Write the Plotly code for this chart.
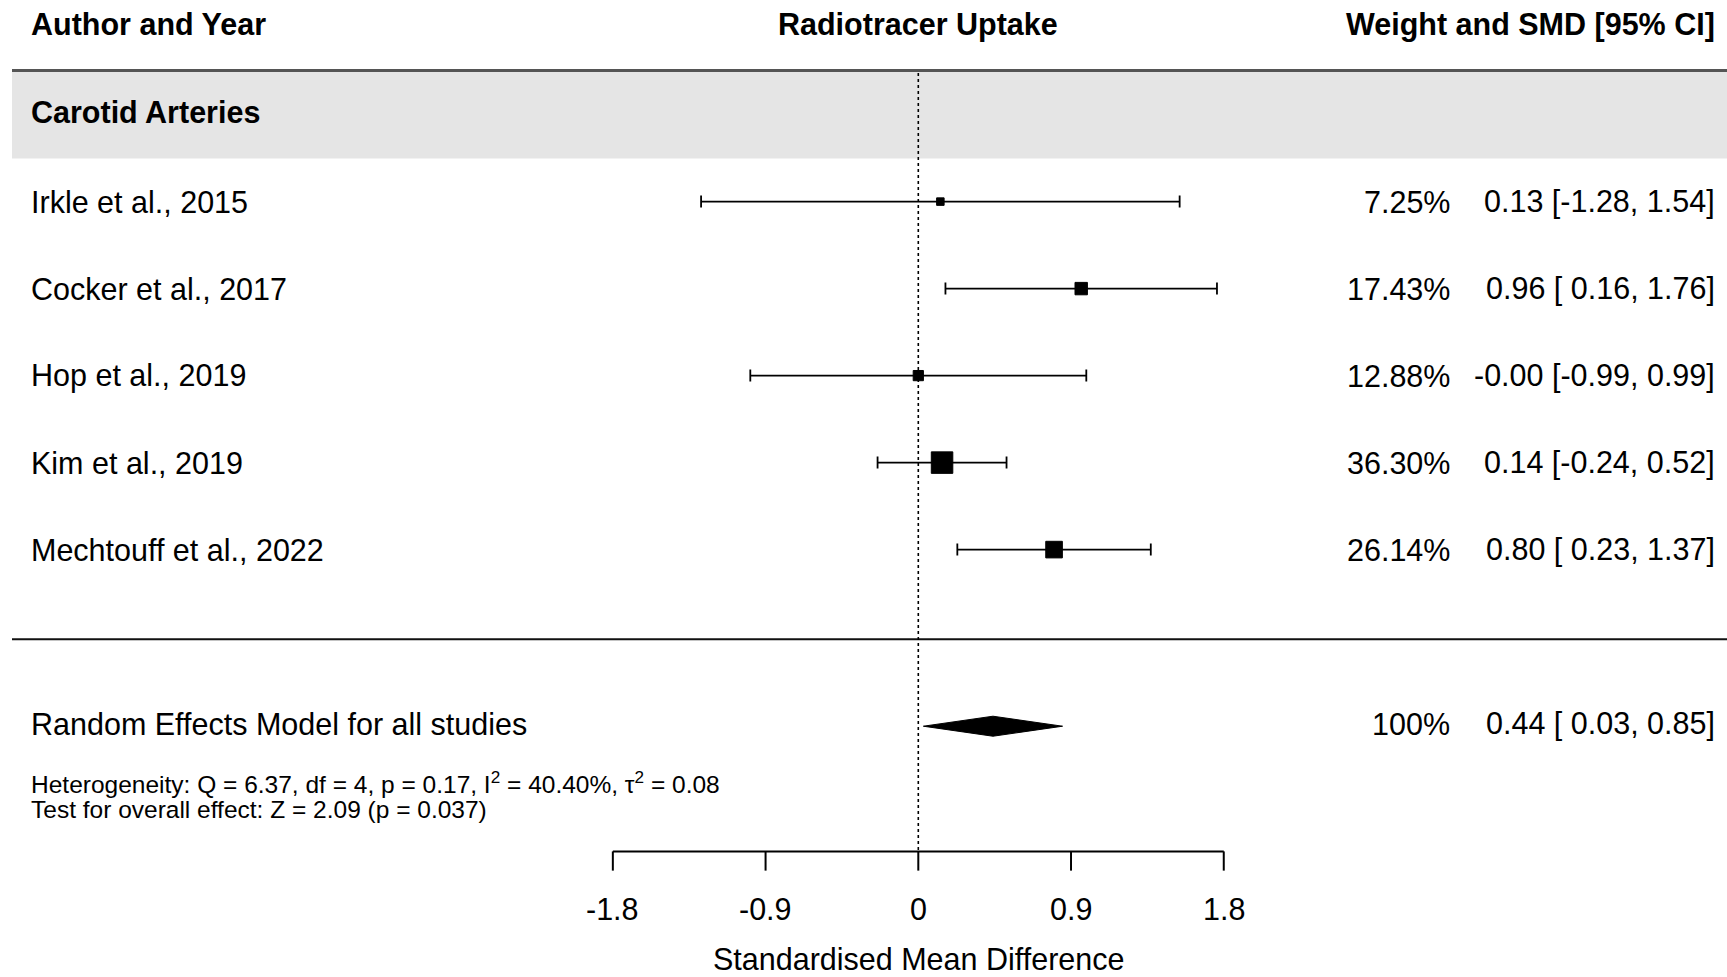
import plotly.graph_objects as go

# ---------------- data ----------------
authors = ["Irkle et al., 2015", "Cocker et al., 2017", "Hop et al., 2019",
           "Kim et al., 2019", "Mechtouff et al., 2022"]
smd = [0.13, 0.96, -0.00, 0.14, 0.80]
ci_lo = [-1.28, 0.16, -0.99, -0.24, 0.23]
ci_hi = [1.54, 1.76, 0.99, 0.52, 1.37]
weights = [7.25, 17.43, 12.88, 36.30, 26.14]

pooled_label = "Random Effects Model for all studies"
pooled_est = 0.44
pooled_lo = 0.03
pooled_hi = 0.85
pooled_weight = "100%"

heterogeneity = "Heterogeneity: Q = 6.37, df = 4, p = 0.17, I<sup>2</sup> = 40.40%, τ<sup>2</sup> = 0.08"
overall_test = "Test for overall effect: Z = 2.09 (p = 0.037)"

tick_vals = [-1.8, -0.9, 0, 0.9, 1.8]
tick_labels = ["-1.8", "-0.9", "0", "0.9", "1.8"]

group_name = "Carotid Arteries"
col_headers = ["Author and Year", "Radiotracer Uptake", "Weight and SMD [95% CI]"]
x_title = "Standardised Mean Difference"

# ---------------- layout constants ----------------
W, H = 1727, 977
X0_PX, UNIT_PX = 918.3, 169.7          # pixel of x=0, pixels per unit
ROW0_PX, ROW_PX = 201.6, 87.0          # pixel of row 1, pixels per row
x_range = [-X0_PX / UNIT_PX, (W - X0_PX) / UNIT_PX]
y_top = 1 - ROW0_PX / ROW_PX
y_bot = 1 + (H - ROW0_PX) / ROW_PX

FONT = "Liberation Sans, Arial, Helvetica, sans-serif"
FS = 30.5
LEFT_PX = 28.5
WEIGHT_RIGHT_PX = 1452
SMD_RIGHT_PX = 1717

rows = list(range(1, len(authors) + 1))
pooled_row = 7
r_header = -1.04
r_band_top, r_band_bot = -0.507, 0.506
r_group = -0.03
r_sep = 6.03
r_het = 7.674
r_test = 7.99
r_axis = 8.469
r_tick_end = 8.69
r_ticklab = 9.13
r_title = 9.70

def px_paper(px):
    return px / W

fig = go.Figure()

# grey band + lines
fig.add_shape(type="rect", xref="paper", yref="y", x0=px_paper(12), x1=1,
              y0=r_band_top, y1=r_band_bot, fillcolor="#e5e5e5", line_width=0, layer="below")
fig.add_shape(type="line", xref="paper", yref="y", x0=px_paper(12), x1=1,
              y0=r_band_top, y1=r_band_top, line=dict(color="#555555", width=3))
fig.add_shape(type="line", xref="paper", yref="y", x0=px_paper(12), x1=1,
              y0=r_sep, y1=r_sep, line=dict(color="#111111", width=2))

# zero reference line
fig.add_shape(type="line", xref="x", yref="y", x0=0, x1=0, y0=r_band_top + 0.03, y1=r_axis,
              line=dict(color="black", width=1.6, dash="dot"))

# study estimates with CIs
wmin, wmax = min(weights), max(weights)
sizes = [7.5 + 14.0 * (w - wmin) / (wmax - wmin) for w in weights]
fig.add_trace(go.Scatter(
    x=smd, y=rows, mode="markers",
    marker=dict(symbol="square", color="black", size=sizes, opacity=1,
                line=dict(width=1, color="black")),
    error_x=dict(type="data", symmetric=False,
                 array=[h - e for h, e in zip(ci_hi, smd)],
                 arrayminus=[e - l for e, l in zip(smd, ci_lo)],
                 color="black", thickness=1.8, width=6),
    showlegend=False, hoverinfo="skip"))

# pooled diamond
dh = 0.115
yc = pooled_row + 0.03
fig.add_trace(go.Scatter(
    x=[pooled_lo, pooled_est, pooled_hi, pooled_est, pooled_lo],
    y=[yc, yc - dh, yc, yc + dh, yc],
    mode="lines", fill="toself", fillcolor="black", line=dict(color="black", width=1),
    showlegend=False, hoverinfo="skip"))

# bottom axis
fig.add_shape(type="line", xref="x", yref="y", x0=tick_vals[0], x1=tick_vals[-1],
              y0=r_axis, y1=r_axis, line=dict(color="black", width=2))
for tv, tl in zip(tick_vals, tick_labels):
    fig.add_shape(type="line", xref="x", yref="y", x0=tv, x1=tv, y0=r_axis, y1=r_tick_end,
                  line=dict(color="black", width=2))
    fig.add_annotation(x=tv, y=r_ticklab, xref="x", yref="y", text=tl, showarrow=False,
                       xanchor="center", yanchor="middle", font=dict(size=FS, color="black", family=FONT))
fig.add_annotation(x=0, y=r_title, xref="x", yref="y", text=x_title, showarrow=False,
                   xanchor="center", yanchor="middle", borderpad=0,
                   font=dict(size=FS, color="black", family=FONT))

def txt(x, y, text, anchor="left", xref="paper", size=FS, bold=False):
    fig.add_annotation(x=x, y=y, xref=xref, yref="y", text=("<b>%s</b>" % text) if bold else text,
                       showarrow=False, xanchor=anchor, yanchor="middle",
                       font=dict(size=size, color="black", family=FONT))

# headers
txt(px_paper(LEFT_PX), r_header, col_headers[0], bold=True)
txt(0, r_header, col_headers[1], anchor="center", xref="x", bold=True)
txt(px_paper(SMD_RIGHT_PX), r_header, col_headers[2], anchor="right", bold=True)
txt(px_paper(LEFT_PX), r_group, group_name, bold=True)

# study rows
for r, a, e, lo, hi, w in zip(rows, authors, smd, ci_lo, ci_hi, weights):
    txt(px_paper(LEFT_PX), r, a)
    txt(px_paper(WEIGHT_RIGHT_PX), r, f"{w:.2f}%", anchor="right")
    txt(px_paper(SMD_RIGHT_PX), r, f"{e:.2f} [{lo:5.2f}, {hi:.2f}]", anchor="right")

# pooled row
txt(px_paper(LEFT_PX), pooled_row, pooled_label)
txt(px_paper(WEIGHT_RIGHT_PX), pooled_row, pooled_weight, anchor="right")
txt(px_paper(SMD_RIGHT_PX), pooled_row, f"{pooled_est:.2f} [{pooled_lo:5.2f}, {pooled_hi:.2f}]", anchor="right")

txt(px_paper(LEFT_PX), r_het, heterogeneity, size=24.5)
txt(px_paper(LEFT_PX), r_test, overall_test, size=24.5)

fig.update_layout(
    width=W, height=H, autosize=False,
    margin=dict(l=0, r=0, t=0, b=0),
    paper_bgcolor="white", plot_bgcolor="white",
    xaxis=dict(range=x_range, visible=False, fixedrange=True, domain=[0, 1]),
    yaxis=dict(range=[y_bot, y_top], visible=False, fixedrange=True, domain=[0, 1]),
    font=dict(family=FONT, color="black"),
)

fig.write_html("out.html", config={"displayModeBar": False},
               post_script="document.body.style.margin='0';document.body.style.overflow='hidden';")
